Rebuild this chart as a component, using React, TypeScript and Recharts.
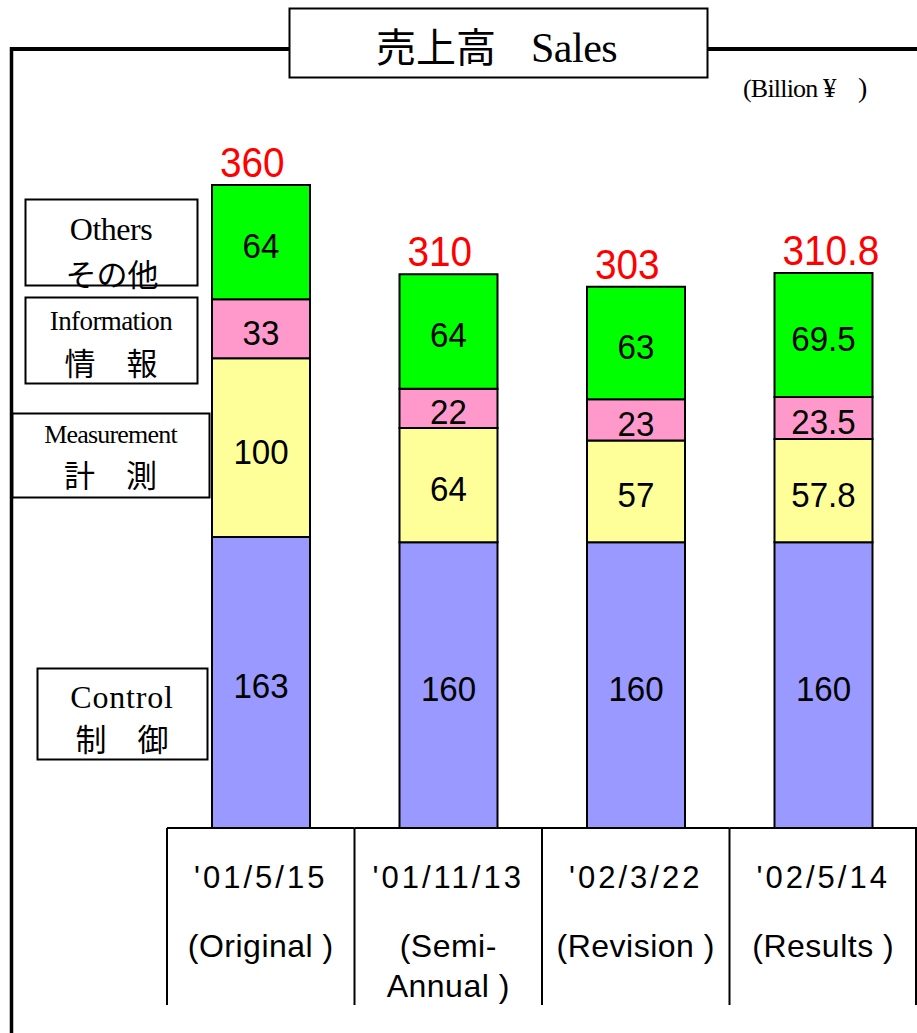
import React from 'react';
import { BarChart, Bar, XAxis, YAxis, LabelList } from 'recharts';

// ---- data ----
const categories = ["'01/5/15", "'01/11/13", "'02/3/22", "'02/5/14"];
const notes: string[][] = [["(Original )"], ["(Semi-", "Annual )"], ["(Revision )"], ["(Results )"]];
const control = [163, 160, 160, 160];
const measurement = [100, 64, 57, 57.8];
const information = [33, 22, 23, 23.5];
const others = [64, 64, 63, 69.5];
const totals = [360, 310, 303, 310.8];
const legendEn = ['Others', 'Information', 'Measurement', 'Control'];
const legendJa = ['その他', '情　報', '計　測', '制　御'];
const titleJa = '売上高';
const titleEn = 'Sales';
const unitParts = ['(Billion', '¥', ')'];

const data = categories.map((c, i) => ({
  name: c,
  control: control[i],
  measurement: measurement[i],
  information: information[i],
  others: others[i],
  total: totals[i],
}));

// ---- layout ----
const W = 917;
const H = 1033;
const PLOT_LEFT = 167;
const PLOT_BOTTOM = 828;
const AXIS_H = H - PLOT_BOTTOM;
const Y_MAX = 400;
const PX_PER_UNIT = 1.786;
const PLOT_TOP = PLOT_BOTTOM - Y_MAX * PX_PER_UNIT;
const BAND = (W - PLOT_LEFT) / categories.length;
const TABLE_BOTTOM = 1005;

const SANS = '"Liberation Sans", Arial, sans-serif';
const SERIF = '"Liberation Serif", "Times New Roman", serif';
const CJK = '"Noto Sans CJK JP", sans-serif';

const legendBoxes = [
  { x: 25, y: 199, w: 172, h: 86, en: 240, ja: 286, enSize: 32, enLs: -0.5 },
  { x: 25, y: 297, w: 172, h: 86, en: 330, ja: 375, enSize: 27, enLs: -0.6 },
  { x: 12, y: 413, w: 197, h: 84, en: 443, ja: 487, enSize: 26, enLs: -0.8 },
  { x: 37, y: 668, w: 170, h: 91, en: 708, ja: 751, enSize: 32, enLs: 0.8 },
];
const unitX = [743, 823, 858];

const TableTick = (props: any) => {
  const { x, payload } = props;
  const i = categories.indexOf(payload.value);
  const half = BAND / 2;
  return (
    <g>
      <line x1={x - half} x2={x + half} y1={PLOT_BOTTOM} y2={PLOT_BOTTOM} stroke="#000" strokeWidth={2} />
      <line x1={x - half} x2={x - half} y1={PLOT_BOTTOM} y2={TABLE_BOTTOM} stroke="#000" strokeWidth={2} />
      {i === categories.length - 1 && (
        <line x1={x + half - 1} x2={x + half - 1} y1={PLOT_BOTTOM} y2={TABLE_BOTTOM} stroke="#000" strokeWidth={2} />
      )}
      <text x={x} y={888} textAnchor="middle" fontFamily={SANS} fontSize={31} letterSpacing={3} fill="#000">
        {payload.value}
      </text>
      {(notes[i] || []).map((t, j) => (
        <text key={j} x={x} y={957 + 40 * j} textAnchor="middle" fontFamily={SANS} fontSize={32} letterSpacing={0.5} fill="#000">
          {t}
        </text>
      ))}
    </g>
  );
};

const SegLabel = (props: any) => {
  const { x, y, width, height, value } = props;
  const cx = x + width / 2;
  const cy = y + height / 2 + 16;
  return (
    <text
      transform={`translate(${cx},${cy}) scale(0.92,1)`}
      x={0}
      y={0}
      textAnchor="middle"
      fontFamily={SANS}
      fontSize={36}
      fill="#000"
    >
      {value}
    </text>
  );
};

const TotalLabel = (props: any) => {
  const { x, y, value } = props;
  return (
    <text
      transform={`translate(${x + 8},${y - 8}) scale(0.9,1)`}
      x={0}
      y={0}
      textAnchor="start"
      fontFamily={SANS}
      fontSize={43}
      fill="#FF0000"
    >
      {value}
    </text>
  );
};

export default function App() {
  return (
    <div style={{ position: 'absolute', left: 0, top: 0, width: W, height: H, background: '#fff' }}>
      <BarChart
        width={W}
        height={H}
        data={data}
        margin={{ top: PLOT_TOP, right: 0, left: PLOT_LEFT, bottom: 0 }}
        barSize={98}
      >
        <XAxis
          dataKey="name"
          height={AXIS_H}
          axisLine={false}
          tickLine={false}
          interval={0}
          tick={<TableTick />}
        />
        <YAxis hide domain={[0, Y_MAX]} />
        <Bar dataKey="control" stackId="s" fill="#9999FF" stroke="#000" strokeWidth={2} isAnimationActive={false}>
          <LabelList dataKey="control" content={<SegLabel />} />
        </Bar>
        <Bar dataKey="measurement" stackId="s" fill="#FFFF99" stroke="#000" strokeWidth={2} isAnimationActive={false}>
          <LabelList dataKey="measurement" content={<SegLabel />} />
        </Bar>
        <Bar dataKey="information" stackId="s" fill="#FF99CC" stroke="#000" strokeWidth={2} isAnimationActive={false}>
          <LabelList dataKey="information" content={<SegLabel />} />
        </Bar>
        <Bar dataKey="others" stackId="s" fill="#00FF00" stroke="#000" strokeWidth={2} isAnimationActive={false}>
          <LabelList dataKey="others" content={<SegLabel />} />
          <LabelList dataKey="total" content={<TotalLabel />} />
        </Bar>
      </BarChart>
      <svg
        width={W}
        height={H}
        style={{ position: 'absolute', left: 0, top: 0, pointerEvents: 'none' }}
      >
        {/* frame */}
        <line x1={11.5} x2={11.5} y1={47} y2={H} stroke="#000" strokeWidth={3.5} />
        <line x1={10} x2={290} y1={49} y2={49} stroke="#000" strokeWidth={4} />
        <line x1={706} x2={W} y1={49} y2={49} stroke="#000" strokeWidth={4} />
        {/* title box */}
        <rect x={289.5} y={8.5} width={418} height={69} fill="#fff" stroke="#000" strokeWidth={2} />
        <text x={376} y={62} fontFamily={CJK} fontSize={40} fill="#000">{titleJa}</text>
        <text x={531} y={62} fontFamily={SERIF} fontSize={42} letterSpacing={-0.5} fill="#000">{titleEn}</text>
        {/* unit */}
        <text y={97} fontFamily={SERIF} fontSize={26} fill="#000">
          <tspan x={unitX[0]} letterSpacing={-0.8}>{unitParts[0]}</tspan>
          <tspan x={unitX[1]} fontSize={27}>{unitParts[1]}</tspan>
          <tspan x={unitX[2]} fontSize={28}>{unitParts[2]}</tspan>
        </text>
        {/* legend boxes */}
        {legendBoxes.map((b, i) => (
          <g key={i}>
            <rect x={b.x + 0.5} y={b.y + 0.5} width={b.w} height={b.h} fill="#fff" stroke="#000" strokeWidth={2} />
            <text x={b.x + b.w / 2} y={b.en} textAnchor="middle" fontFamily={SERIF} fontSize={b.enSize} letterSpacing={b.enLs} fill="#000">
              {legendEn[i]}
            </text>
            <text x={b.x + b.w / 2 + (i === 0 ? 1 : 0)} y={b.ja} textAnchor="middle" fontFamily={CJK} fontSize={31} fill="#000">
              {legendJa[i]}
            </text>
          </g>
        ))}
      </svg>
    </div>
  );
}
